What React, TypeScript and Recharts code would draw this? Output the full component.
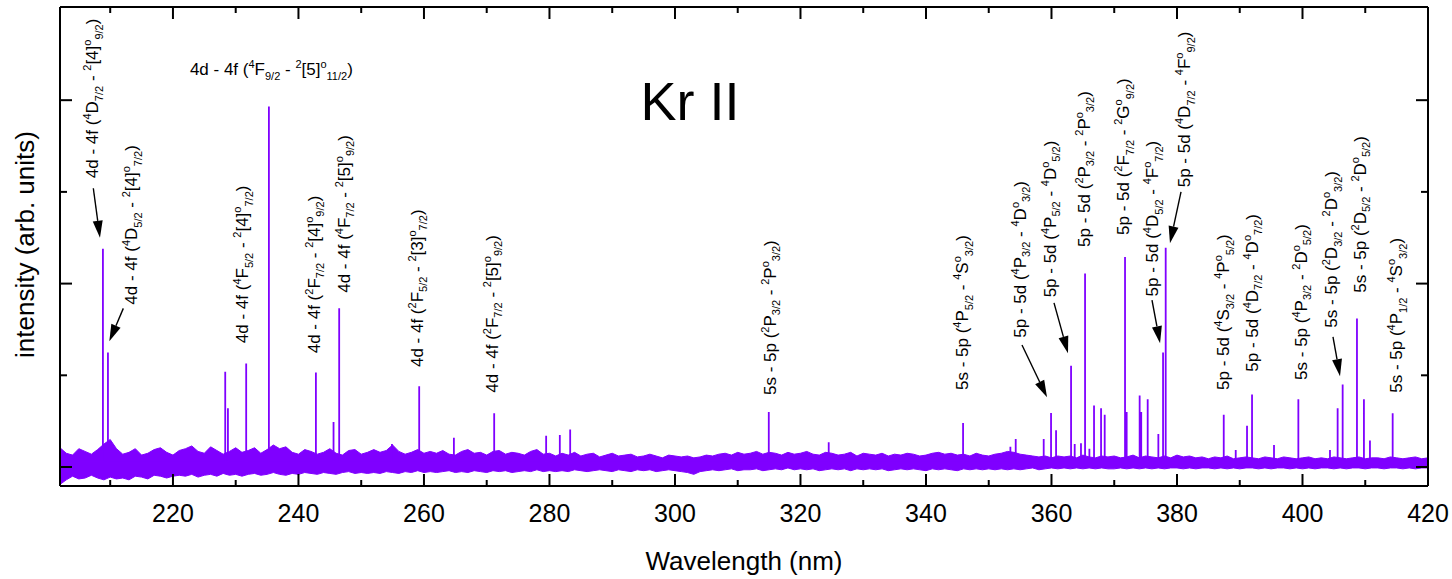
import React from "react";
import {
  ComposedChart,
  Area,
  Line,
  XAxis,
  YAxis,
  ReferenceDot,
  ReferenceLine,
} from "recharts";

const PURPLE = "#7f00ff";
const FONT = "'Liberation Sans', Arial, Helvetica, sans-serif";

// noise floor of the spectrum, one entry per nm starting at 202 nm
const FLOOR_START = 202;
const FLOOR_HI = [
  0.21, 0.15, 0.13, 0.2, 0.17, 0.14, 0.19, 0.25, 0.3, 0.2,
  0.14, 0.16, 0.2, 0.13, 0.15, 0.19, 0.21, 0.16, 0.13, 0.18,
  0.2, 0.23, 0.17, 0.15, 0.22, 0.18, 0.14, 0.17, 0.21, 0.16,
  0.18, 0.21, 0.15, 0.19, 0.24, 0.2, 0.22, 0.16, 0.14, 0.19,
  0.17, 0.14, 0.16, 0.2, 0.15, 0.13, 0.18, 0.19, 0.14, 0.16,
  0.19, 0.16, 0.18, 0.24, 0.17, 0.14, 0.16, 0.19, 0.15, 0.17,
  0.15, 0.18, 0.14, 0.13, 0.17, 0.19, 0.15, 0.16, 0.13, 0.17,
  0.18, 0.14, 0.16, 0.15, 0.13, 0.17, 0.19, 0.14, 0.15, 0.12,
  0.15, 0.13, 0.16, 0.12, 0.14, 0.15, 0.11, 0.13, 0.15, 0.12,
  0.13, 0.14, 0.11, 0.12, 0.14, 0.12, 0.1, 0.13, 0.12, 0.11,
  0.12, 0.1, 0.11, 0.13, 0.12, 0.14, 0.15, 0.13, 0.16, 0.14,
  0.15, 0.17, 0.14, 0.16, 0.15, 0.13, 0.16, 0.14, 0.15, 0.17,
  0.14, 0.13, 0.16, 0.15, 0.13, 0.14, 0.16, 0.12, 0.15, 0.14,
  0.13, 0.15, 0.12, 0.14, 0.13, 0.15, 0.14, 0.12, 0.13, 0.15,
  0.16, 0.14, 0.15, 0.13, 0.14, 0.12, 0.15, 0.13, 0.12, 0.14,
  0.15, 0.17, 0.16, 0.14, 0.13, 0.12, 0.11, 0.12, 0.1, 0.12,
  0.11, 0.12, 0.1, 0.13, 0.11, 0.1, 0.12, 0.11, 0.12, 0.1,
  0.11, 0.13, 0.1, 0.12, 0.11, 0.1, 0.12, 0.1, 0.13, 0.11,
  0.12, 0.1, 0.11, 0.09, 0.11, 0.1, 0.12, 0.09, 0.1, 0.11,
  0.1, 0.09, 0.11, 0.1, 0.09, 0.11, 0.1, 0.09, 0.1, 0.11,
  0.09, 0.1, 0.09, 0.11, 0.1, 0.09, 0.1, 0.11, 0.09, 0.1,
  0.1, 0.09, 0.11, 0.1, 0.09, 0.1, 0.11, 0.09, 0.1,
];
const FLOOR_LO = [
  -0.19, -0.14, -0.1, -0.13, -0.12, -0.09, -0.12, -0.14, -0.11, -0.13,
  -0.12, -0.14, -0.1, -0.11, -0.13, -0.09, -0.1, -0.12, -0.1, -0.09,
  -0.1, -0.08, -0.11, -0.09, -0.08, -0.1, -0.07, -0.09, -0.08, -0.1,
  -0.08, -0.07, -0.09, -0.08, -0.06, -0.08, -0.09, -0.07, -0.08, -0.06,
  -0.07, -0.08, -0.06, -0.07, -0.08, -0.06, -0.05, -0.07, -0.06, -0.07,
  -0.06, -0.07, -0.05, -0.06, -0.07, -0.05, -0.06, -0.04, -0.06, -0.05,
  -0.06, -0.05, -0.04, -0.06, -0.05, -0.06, -0.04, -0.05, -0.06, -0.04,
  -0.05, -0.04, -0.06, -0.05, -0.04, -0.05, -0.03, -0.05, -0.04, -0.05,
  -0.04, -0.05, -0.03, -0.04, -0.05, -0.04, -0.03, -0.04, -0.05, -0.03,
  -0.04, -0.05, -0.03, -0.04, -0.03, -0.05, -0.04, -0.03, -0.04, -0.05,
  -0.06, -0.08, -0.05, -0.04, -0.03, -0.04, -0.03, -0.02, -0.04, -0.03,
  -0.03, -0.02, -0.04, -0.03, -0.02, -0.03, -0.01, -0.03, -0.02, -0.03,
  -0.02, -0.04, -0.03, -0.02, -0.03, -0.02, -0.04, -0.02, -0.03, -0.02,
  -0.03, -0.02, -0.04, -0.03, -0.02, -0.03, -0.02, -0.03, -0.04, -0.02,
  -0.03, -0.02, -0.03, -0.04, -0.02, -0.03, -0.02, -0.03, -0.02, -0.03,
  -0.02, -0.03, -0.02, -0.03, -0.02, -0.01, -0.03, -0.02, -0.01, -0.02,
  -0.01, -0.02, -0.01, -0.02, -0.01, -0.02, -0.01, -0.02, -0.02, -0.01,
  -0.02, -0.01, -0.02, -0.01, -0.02, -0.01, -0.02, -0.01, -0.01, -0.02,
  -0.01, -0.02, -0.01, -0.01, -0.02, -0.01, -0.02, -0.01, -0.02, -0.01,
  -0.01, -0.02, -0.01, -0.02, -0.01, -0.01, -0.02, -0.01, -0.02, -0.01,
  -0.02, -0.01, -0.01, -0.02, -0.01, -0.02, -0.01, -0.01, -0.02, -0.01,
  -0.01, -0.02, -0.01, -0.01, -0.02, -0.01, -0.02, -0.01, -0.01,
];

// emission lines: wavelength (nm) and peak height (arb. units)
const LINE_NM = [
  208.84, 209.64, 228.33, 228.76, 231.67, 235.29, 242.78, 245.59, 246.49,
  254.9, 259.24, 264.77, 271.19, 279.47, 281.65, 283.3, 314.95, 324.5,
  345.91, 353.45, 354.3, 358.76, 359.93, 360.73, 363.12, 363.7, 364.7,
  365.35, 366.04, 366.78, 367.9, 368.48, 371.72, 371.98, 374.05, 374.3,
  375.33, 377.03, 377.78, 378.2, 387.45, 389.36, 391.16, 391.96, 395.46,
  399.34, 404.38, 405.6, 406.4, 408.68, 409.79, 410.75, 414.37,
];
const LINE_HEIGHT = [
  2.38, 1.25, 1.04, 0.64, 1.13, 3.93, 1.03, 0.49, 1.73,
  0.25, 0.88, 0.32, 0.585, 0.34, 0.35, 0.41, 0.6, 0.27,
  0.48, 0.22, 0.305, 0.305, 0.59, 0.4, 1.105, 0.25, 0.26,
  2.11, 0.2, 0.67, 0.64, 0.57, 2.29, 0.6, 0.78, 0.6,
  0.74, 0.36, 1.25, 2.39, 0.57, 0.185, 0.45, 0.79, 0.24,
  0.74, 0.185, 0.64, 0.9, 1.62, 0.74, 0.29, 0.585,
];
const LINE_FOOT = 0.05;

const X_TICKS = [210, 220, 230, 240, 250, 260, 270, 280, 290, 300, 310, 320, 330, 340, 350, 360, 370, 380, 390, 400, 410, 420];
const Y_TICKS = [0, 1, 2, 3, 4];

type Term = [string, string, string];
interface Transition {
  at: [number, number];
  shell: string;
  lower: Term;
  upper: Term;
  flat?: boolean;
}

const TRANSITIONS: Transition[] = [
  { at: [208.06, 3.15], shell: "4d - 4f", lower: ["4", "D", "7/2"], upper: ["2", "[4]", "9/2"] },
  { at: [214.3, 1.77], shell: "4d - 4f", lower: ["4", "D", "5/2"], upper: ["2", "[4]", "7/2"] },
  { at: [232.0, 1.35], shell: "4d - 4f", lower: ["4", "F", "5/2"], upper: ["2", "[4]", "7/2"] },
  { at: [222.7, 4.27], shell: "4d - 4f", lower: ["4", "F", "9/2"], upper: ["2", "[5]", "11/2"], flat: true },
  { at: [243.4, 1.24], shell: "4d - 4f", lower: ["2", "F", "7/2"], upper: ["2", "[4]", "9/2"] },
  { at: [248.2, 1.9], shell: "4d - 4f", lower: ["4", "F", "7/2"], upper: ["2", "[5]", "9/2"] },
  { at: [259.8, 1.09], shell: "4d - 4f", lower: ["2", "F", "5/2"], upper: ["2", "[3]", "7/2"] },
  { at: [271.8, 0.81], shell: "4d - 4f", lower: ["2", "F", "7/2"], upper: ["2", "[5]", "9/2"] },
  { at: [316.1, 0.785], shell: "5s - 5p", lower: ["2", "P", "3/2"], upper: ["2", "P", "3/2"] },
  { at: [346.7, 0.84], shell: "5s - 5p", lower: ["4", "P", "5/2"], upper: ["4", "S", "3/2"] },
  { at: [355.9, 1.41], shell: "5p - 5d", lower: ["4", "P", "3/2"], upper: ["4", "D", "3/2"] },
  { at: [360.7, 1.85], shell: "5p - 5d", lower: ["4", "P", "5/2"], upper: ["4", "D", "5/2"] },
  { at: [366.1, 2.4], shell: "5p - 5d", lower: ["2", "P", "3/2"], upper: ["2", "P", "3/2"] },
  { at: [372.4, 2.53], shell: "5p - 5d", lower: ["2", "F", "7/2"], upper: ["2", "G", "9/2"] },
  { at: [377.0, 1.86], shell: "5p - 5d", lower: ["4", "D", "5/2"], upper: ["4", "F", "7/2"] },
  { at: [382.1, 3.05], shell: "5p - 5d", lower: ["4", "D", "7/2"], upper: ["4", "F", "9/2"] },
  { at: [388.3, 0.84], shell: "5p - 5d", lower: ["4", "S", "3/2"], upper: ["4", "P", "5/2"] },
  { at: [392.9, 1.04], shell: "5p - 5d", lower: ["4", "D", "7/2"], upper: ["4", "D", "7/2"] },
  { at: [400.7, 0.95], shell: "5s - 5p", lower: ["4", "P", "3/2"], upper: ["2", "D", "5/2"] },
  { at: [405.5, 1.52], shell: "5s - 5p", lower: ["2", "D", "3/2"], upper: ["2", "D", "3/2"] },
  { at: [410.1, 1.9], shell: "5s - 5p", lower: ["2", "D", "5/2"], upper: ["2", "D", "5/2"] },
  { at: [415.9, 0.81], shell: "5s - 5p", lower: ["4", "P", "1/2"], upper: ["4", "S", "3/2"] },
];

// pointer arrows: [from nm, from y, to nm, to y]
const ARROWS: [number, number, number, number][] = [
  [207.31, 3.04, 208.37, 2.5],
  [212.09, 1.73, 209.86, 1.37],
  [355.3, 1.33, 359.29, 0.76],
  [360.4, 1.79, 362.63, 1.24],
  [376.02, 1.82, 377.3, 1.35],
  [380.64, 3.0, 378.88, 2.44],
  [404.86, 1.42, 405.98, 0.99],
];

const floorData = FLOOR_HI.map((hi, i) => ({ x: FLOOR_START + i, band: [FLOOR_LO[i], hi] }));
const lineData = LINE_NM.flatMap((nm, i) => [
  { x: nm, y: LINE_FOOT },
  { x: nm, y: LINE_HEIGHT[i] },
  { x: nm, y: LINE_FOOT },
]);

const X_DOMAIN: [number, number] = [202, 420];
const Y_DOMAIN: [number, number] = [-0.207, 5.016];

function TransitionText({ x, y, t }: { x: number; y: number; t: Transition }) {
  const small = 11;
  const up = -7;
  const down = 4.5;
  return (
    <text
      x={x}
      y={y}
      fontFamily={FONT}
      fontSize={17}
      fill="#000"
      style={{ whiteSpace: "pre" }}
      transform={t.flat ? undefined : `rotate(-90 ${x} ${y})`}
    >
      <tspan>{`${t.shell} (`}</tspan>
      <tspan fontSize={small} dy={up}>{t.lower[0]}</tspan>
      <tspan dy={-up}>{t.lower[1]}</tspan>
      <tspan fontSize={small} dy={down}>{t.lower[2]}</tspan>
      <tspan dy={-down}>{" - "}</tspan>
      <tspan fontSize={small} dy={up}>{t.upper[0]}</tspan>
      <tspan dy={-up}>{t.upper[1]}</tspan>
      <tspan fontSize={small} dy={up}>o</tspan>
      <tspan fontSize={small} dy={down - up}>{t.upper[2]}</tspan>
      <tspan dy={-down}>)</tspan>
    </text>
  );
}

function Arrow(p: any) {
  const { x1, y1, x2, y2 } = p;
  const dx = x2 - x1;
  const dy = y2 - y1;
  const len = Math.hypot(dx, dy) || 1;
  const ux = dx / len;
  const uy = dy / len;
  const head = 17;
  const half = 5;
  const bx = x2 - ux * head;
  const by = y2 - uy * head;
  return (
    <g>
      <line x1={x1} y1={y1} x2={bx} y2={by} stroke="#000" strokeWidth={1.4} />
      <polygon
        points={`${x2},${y2} ${bx - uy * half},${by + ux * half} ${bx + uy * half},${by - ux * half}`}
        fill="#000"
      />
    </g>
  );
}

const isMajorX = (v: number) => v % 20 === 0;
const isMajorY = (v: number) => v % 2 === 0;

function BottomTick(p: any) {
  const { x, y, payload } = p;
  const v = payload.value;
  const len = isMajorX(v) ? 12 : 6;
  return (
    <g>
      <line x1={x} x2={x} y1={y} y2={y - len} stroke="#000" strokeWidth={2} />
      {isMajorX(v) && (
        <text x={x} y={y + 36} textAnchor="middle" fontSize={25} fontFamily={FONT} fill="#000">
          {v}
        </text>
      )}
    </g>
  );
}

function TopTick(p: any) {
  const { x, y, payload } = p;
  const len = isMajorX(payload.value) ? 12 : 6;
  return <line x1={x} x2={x} y1={y} y2={y + len} stroke="#000" strokeWidth={2} />;
}

function LeftTick(p: any) {
  const { x, y, payload } = p;
  const len = isMajorY(payload.value) ? 12 : 7;
  return <line x1={x} x2={x + len} y1={y} y2={y} stroke="#000" strokeWidth={2} />;
}

function RightTick(p: any) {
  const { x, y, payload } = p;
  const len = isMajorY(payload.value) ? 12 : 7;
  return <line x1={x} x2={x - len} y1={y} y2={y} stroke="#000" strokeWidth={2} />;
}

export default function App() {
  return (
    <div style={{ position: "absolute", left: 0, top: 0, background: "#fff" }}>
      <ComposedChart width={1452} height={579} margin={{ top: 6, right: 23, bottom: 33, left: 59 }}>
        <XAxis
          dataKey="x"
          type="number"
          domain={X_DOMAIN}
          ticks={X_TICKS}
          interval={0}
          allowDataOverflow
          height={60}
          tickSize={0}
          tickMargin={0}
          tickLine={false}
          tick={BottomTick}
          axisLine={{ stroke: "#000", strokeWidth: 2 }}
          label={(props: any) => {
            const vb = props.viewBox || { x: 60, y: 486, width: 1368 };
            return (
              <text x={vb.x + vb.width / 2} y={vb.y + 84} textAnchor="middle" fontSize={26} fontFamily={FONT} fill="#000">
                Wavelength (nm)
              </text>
            );
          }}
        />
        <XAxis
          xAxisId="top"
          dataKey="x"
          orientation="top"
          type="number"
          domain={X_DOMAIN}
          ticks={X_TICKS}
          interval={0}
          allowDataOverflow
          height={1}
          tickSize={0}
          tickMargin={0}
          tickLine={false}
          tick={TopTick}
          axisLine={{ stroke: "#000", strokeWidth: 2 }}
        />
        <YAxis
          type="number"
          domain={Y_DOMAIN}
          ticks={Y_TICKS}
          interval={0}
          allowDataOverflow
          width={1}
          tickSize={0}
          tickMargin={0}
          tickLine={false}
          tick={LeftTick}
          axisLine={{ stroke: "#000", strokeWidth: 2 }}
          label={(props: any) => {
            const vb = props.viewBox || { x: 59, y: 7, height: 479 };
            const cy = vb.y + vb.height / 2 - 2;
            return (
              <text x={34} y={cy} transform={`rotate(-90 34 ${cy})`} textAnchor="middle" fontSize={26} fontFamily={FONT} fill="#000">
                intensity (arb. units)
              </text>
            );
          }}
        />
        <YAxis
          yAxisId="right"
          orientation="right"
          type="number"
          domain={Y_DOMAIN}
          ticks={Y_TICKS}
          interval={0}
          allowDataOverflow
          width={1}
          tickSize={0}
          tickMargin={0}
          tickLine={false}
          tick={RightTick}
          axisLine={{ stroke: "#000", strokeWidth: 2 }}
        />
        <Area
          data={floorData}
          dataKey="band"
          type="linear"
          stroke={PURPLE}
          strokeWidth={1}
          fill={PURPLE}
          fillOpacity={1}
          isAnimationActive={false}
        />
        <Line
          data={lineData}
          dataKey="y"
          type="linear"
          stroke={PURPLE}
          strokeWidth={1.8}
          dot={false}
          isAnimationActive={false}
        />
        {/* same lines, bound to the mirror axes so the top and right frame get drawn */}
        <Line
          data={lineData}
          xAxisId="top"
          yAxisId="right"
          dataKey="y"
          type="linear"
          stroke="none"
          dot={false}
          activeDot={false}
          isAnimationActive={false}
        />
        {ARROWS.map((a, i) => (
          <ReferenceLine
            key={`arrow-${i}`}
            segment={[
              { x: a[0], y: a[1] },
              { x: a[2], y: a[3] },
            ]}
            shape={Arrow}
          />
        ))}
        {TRANSITIONS.map((t, i) => (
          <ReferenceDot
            key={`tr-${i}`}
            x={t.at[0]}
            y={t.at[1]}
            r={0}
            shape={(p: any) => <TransitionText x={p.cx} y={p.cy} t={t} />}
          />
        ))}
        <ReferenceDot
          x={302.4}
          y={3.78}
          r={0}
          shape={(p: any) => (
            <text x={p.cx} y={p.cy} textAnchor="middle" fontSize={54} fontFamily={FONT} fill="#000">
              Kr II
            </text>
          )}
        />
      </ComposedChart>
    </div>
  );
}
